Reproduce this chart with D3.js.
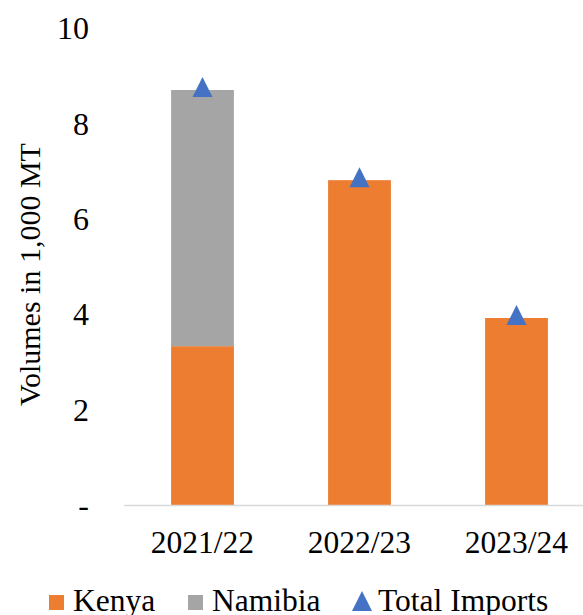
<!DOCTYPE html>
<html>
<head>
<meta charset="utf-8">
<script src="https://cdnjs.cloudflare.com/ajax/libs/d3/7.8.5/d3.min.js"></script>
<style>
  body { margin: 0; background: #fff; }
  text { font-family: "Liberation Serif", "Times New Roman", serif; fill: #000; }
</style>
</head>
<body>
<div id="chart"></div>
<script>
const categories = ['2021/22', '2022/23', '2023/24'];
const kenya = [3.33, 6.81, 3.92];
const namibia = [5.37, 0, 0];
const totalImports = [8.70, 6.81, 3.92];
const yTicks = [0, 2, 4, 6, 8, 10];

const width = 583, height = 615;
const margin = { top: 28, right: -12, bottom: 110, left: 124 };

const svg = d3.select('#chart').append('svg')
  .attr('width', width)
  .attr('height', height);

const x = d3.scaleBand()
  .domain(categories)
  .range([margin.left, width - margin.right])
  .paddingInner(0.6)
  .paddingOuter(0.3);

const y = d3.scaleLinear()
  .domain([0, 10])
  .range([height - margin.bottom, margin.top]);

// isosceles triangle, like the office marker (w = h)
const triangle = {
  draw(ctx, size) {
    const s = Math.sqrt(size);
    ctx.moveTo(0, -s * 0.6);
    ctx.lineTo(s / 2, s * 0.4);
    ctx.lineTo(-s / 2, s * 0.4);
    ctx.closePath();
  }
};

// y tick labels
svg.append('g')
  .selectAll('text')
  .data(yTicks)
  .enter()
  .append('text')
  .attr('x', 89)
  .attr('y', d => y(d))
  .attr('dy', '0.35em')
  .attr('text-anchor', 'end')
  .style('font-size', '32px')
  .text(d => d === 0 ? '-' : d);

// y axis title
svg.append('text')
  .attr('transform', `translate(40, ${(y(0) + y(10)) / 2 + 8}) rotate(-90)`)
  .attr('text-anchor', 'middle')
  .style('font-size', '30px')
  .text('Volumes in 1,000 MT');

// bars
const stack = d3.stack().keys(['kenya', 'namibia'])(
  categories.map((c, i) => ({ cat: c, kenya: kenya[i], namibia: namibia[i] }))
);
const colors = { kenya: '#ED7D31', namibia: '#A5A5A5' };

svg.append('g')
  .selectAll('g')
  .data(stack)
  .enter()
  .append('g')
  .attr('fill', d => colors[d.key])
  .selectAll('rect')
  .data(d => d.filter(s => s[1] - s[0] > 0))
  .enter()
  .append('rect')
  .attr('x', d => x(d.data.cat))
  .attr('y', d => y(d[1]))
  .attr('width', x.bandwidth())
  .attr('height', d => y(d[0]) - y(d[1]));

// baseline
svg.append('line')
  .attr('x1', margin.left)
  .attr('x2', width)
  .attr('y1', y(0) + 0.5)
  .attr('y2', y(0) + 0.5)
  .attr('stroke', '#D9D9D9')
  .attr('stroke-width', 1.5);

// total markers
svg.append('g')
  .selectAll('path')
  .data(totalImports)
  .enter()
  .append('path')
  .attr('d', d3.symbol().type(triangle).size(400))
  .attr('transform', (d, i) => `translate(${x(categories[i]) + x.bandwidth() / 2}, ${y(d) - 1})`)
  .attr('fill', '#4472C4');

// x labels
svg.append('g')
  .selectAll('text')
  .data(categories)
  .enter()
  .append('text')
  .attr('x', d => x(d) + x.bandwidth() / 2)
  .attr('y', 553)
  .attr('text-anchor', 'middle')
  .style('font-size', '31.5px')
  .text(d => d);

// legend
const legend = [
  { label: 'Kenya', color: colors.kenya, shape: 'rect', x: 49 },
  { label: 'Namibia', color: colors.namibia, shape: 'rect', x: 188 },
  { label: 'Total Imports', color: '#4472C4', shape: 'tri', x: 352 }
];
const lg = svg.append('g').selectAll('g')
  .data(legend)
  .enter()
  .append('g')
  .attr('transform', d => `translate(${d.x}, 0)`);

lg.filter(d => d.shape === 'rect').append('rect')
  .attr('x', 0).attr('y', 595)
  .attr('width', 15).attr('height', 15)
  .attr('fill', d => d.color);

lg.filter(d => d.shape === 'tri').append('path')
  .attr('d', d3.symbol().type(triangle).size(400))
  .attr('transform', 'translate(10, 603)')
  .attr('fill', d => d.color);

lg.append('text')
  .attr('x', d => d.shape === 'tri' ? 26 : 24)
  .attr('y', 611)
  .style('font-size', '31.5px')
  .text(d => d.label);
</script>
</body>
</html>
